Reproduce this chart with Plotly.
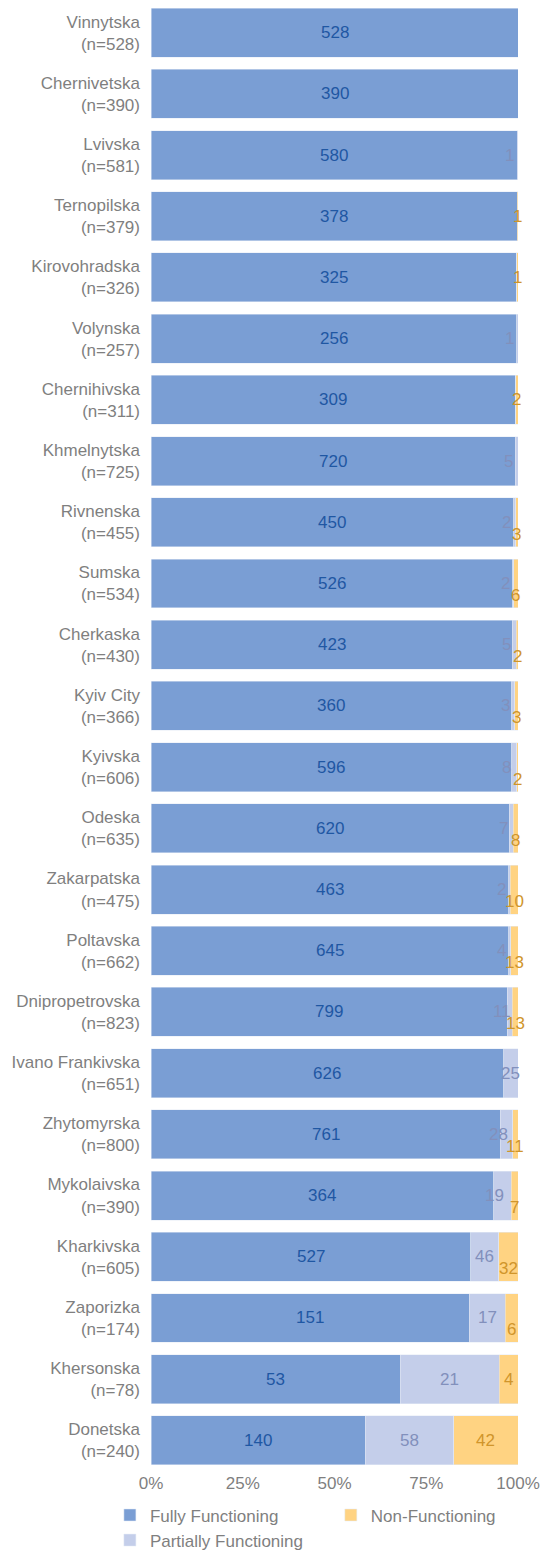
import plotly.graph_objects as go

# oblast names (top to bottom) and counts per functioning status
regions = [
    "Vinnytska", "Chernivetska", "Lvivska", "Ternopilska", "Kirovohradska",
    "Volynska", "Chernihivska", "Khmelnytska", "Rivnenska", "Sumska",
    "Cherkaska", "Kyiv City", "Kyivska", "Odeska", "Zakarpatska",
    "Poltavska", "Dnipropetrovska", "Ivano Frankivska", "Zhytomyrska",
    "Mykolaivska", "Kharkivska", "Zaporizka", "Khersonska", "Donetska",
]
fully = [528, 390, 580, 378, 325, 256, 309, 720, 450, 526, 423, 360, 596,
         620, 463, 645, 799, 626, 761, 364, 527, 151, 53, 140]
partial = [0, 0, 1, 0, 0, 1, 0, 5, 2, 2, 5, 3, 8, 7, 2, 4, 11, 25, 28, 19,
           46, 17, 21, 58]
nonfunc = [0, 0, 0, 1, 1, 0, 2, 0, 3, 6, 2, 3, 2, 8, 10, 13, 13, 0, 11, 7,
           32, 6, 4, 42]

totals = [f + p + n for f, p, n in zip(fully, partial, nonfunc)]
cats = [f"{r}<br>(n={t})" for r, t in zip(regions, totals)]


def pct(vals):
    return [v / t * 100 for v, t in zip(vals, totals)]


p_full, p_part, p_non = pct(fully), pct(partial), pct(nonfunc)

FONT = "Liberation Sans, Arial, sans-serif"
# name, shares, counts, bar colour, label colour, legend
series = [
    ("Fully Functioning", p_full, fully, "#7A9ED4", "#1F57A3", "legend"),
    ("Partially Functioning", p_part, partial, "#C4CEEA", "#8290BC", "legend"),
    ("Non-Functioning", p_non, nonfunc, "#FFD382", "#D0952B", "legend2"),
]

fig = go.Figure()
for name, xs, counts, col, _, leg in series:
    fig.add_trace(go.Bar(
        y=cats, x=xs, name=name, orientation="h", marker_color=col,
        customdata=counts, legend=leg,
        hovertemplate="%{y}<br>" + name + ": %{customdata}<extra></extra>",
    ))

# value labels, with a bit of nudging for the thin slivers at the end
annos = []
for i, c in enumerate(cats):
    start = 0
    for k, (name, xs, counts, _, tcol, _) in enumerate(series):
        share, n = xs[i], counts[i]
        mid = start + share / 2
        start += share
        if n == 0:
            continue
        dx, dy = 0, 0
        if k == 1 and share < 5 and (p_non[i] > 0 or share < 1):
            dx = -8
        if k == 2 and 0 < p_part[i] < 15:
            dy = -12
        annos.append(dict(
            x=mid, y=c, text=str(n), showarrow=False, xshift=dx, yshift=dy,
            font=dict(size=17, color=tcol, family=FONT),
        ))

leg_style = dict(
    orientation="v", xanchor="left", y=-0.018, yanchor="top",
    font=dict(size=17, color="#7F7F7F"), itemclick=False,
    bgcolor="rgba(0,0,0,0)", tracegroupgap=0, traceorder="normal",
)

fig.update_layout(
    width=541, height=1550,
    margin=dict(l=151, r=23, t=2, b=79, autoexpand=False),
    barmode="stack", bargap=0.2,
    plot_bgcolor="white", paper_bgcolor="white",
    font=dict(family=FONT, size=17, color="#7F7F7F"),
    annotations=annos,
    showlegend=True,
    legend=dict(x=-0.112, **leg_style),
    legend2=dict(x=0.49, **leg_style),
)
fig.update_xaxes(range=[0, 100], dtick=25, ticksuffix="%", showgrid=False,
                 zeroline=False, showline=False, ticks="",
                 tickfont=dict(size=17, color="#7F7F7F"))
fig.update_yaxes(autorange="reversed", showgrid=False, showline=False,
                 ticks="", ticklabelstandoff=10,
                 tickfont=dict(size=17, color="#7F7F7F"))

fig.write_html("out.html", config={"displayModeBar": False},
               post_script="document.body.style.margin='0';")
